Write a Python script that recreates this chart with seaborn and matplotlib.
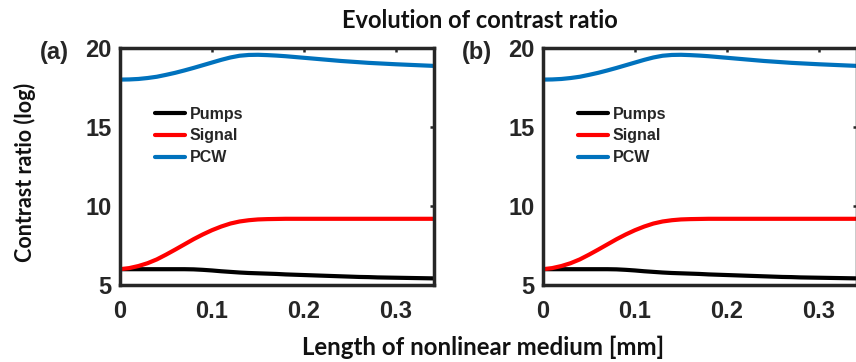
import numpy as np
import pandas as pd
import matplotlib
matplotlib.use("Agg")
import matplotlib.pyplot as plt
import seaborn as sns

# Propagation distance along the nonlinear medium (mm)
length_mm = [0.00, 0.01, 0.02, 0.03, 0.04, 0.05, 0.06, 0.07, 0.08, 0.09,
             0.10, 0.11, 0.12, 0.13, 0.14, 0.15, 0.16, 0.17, 0.18, 0.19,
             0.20, 0.21, 0.22, 0.23, 0.24, 0.25, 0.26, 0.27, 0.28, 0.29,
             0.30, 0.31, 0.32, 0.33, 0.34]

# Contrast ratio (log) of each wave
pumps = [6.00, 6.00, 6.00, 6.00, 6.00, 6.00, 6.00, 6.00, 5.99, 5.96,
         5.92, 5.87, 5.83, 5.79, 5.76, 5.74, 5.72, 5.70, 5.67, 5.65,
         5.63, 5.61, 5.59, 5.57, 5.55, 5.53, 5.51, 5.50, 5.48, 5.47,
         5.46, 5.45, 5.44, 5.43, 5.42]
signal = [6.00, 6.07, 6.20, 6.38, 6.62, 6.92, 7.24, 7.57, 7.90, 8.20,
          8.47, 8.70, 8.89, 9.02, 9.10, 9.15, 9.17, 9.18, 9.19, 9.19,
          9.19, 9.19, 9.19, 9.19, 9.19, 9.19, 9.19, 9.19, 9.19, 9.19,
          9.19, 9.19, 9.19, 9.19, 9.19]
pcw = [18.00, 18.01, 18.04, 18.10, 18.18, 18.30, 18.43, 18.58, 18.74, 18.91,
       19.08, 19.25, 19.40, 19.51, 19.56, 19.57, 19.55, 19.52, 19.48, 19.43,
       19.38, 19.33, 19.28, 19.23, 19.18, 19.14, 19.10, 19.06, 19.03, 19.00,
       18.97, 18.945, 18.92, 18.895, 18.87]

series_names = ["Pumps", "Signal", "PCW"]
series_colors = ["#000000", "#FF0000", "#0072BD"]
panel_labels = ["(a)", "(b)"]
x_ticks = [0, 0.1, 0.2, 0.3]
x_tick_labels = ["0", "0.1", "0.2", "0.3"]
y_ticks = [5, 10, 15, 20]

df = pd.DataFrame({
    "length": length_mm * 3,
    "ratio": pumps + signal + pcw,
    "wave": sum([[n] * len(length_mm) for n in series_names], []),
})

sns.set_theme(style="white")
plt.rcParams["font.family"] = ["Liberation Sans", "DejaVu Sans"]

W, H = 856, 362
fig = plt.figure(figsize=(W / 100, H / 100), dpi=100)

ax_lefts = [120, 543]
ax_width = 314
ax_top, ax_bottom = 48, 285
frame_color = "#262626"

for i, left in enumerate(ax_lefts):
    ax = fig.add_axes([left / W, (H - ax_bottom) / H, ax_width / W,
                       (ax_bottom - ax_top) / H])
    sns.lineplot(data=df, x="length", y="ratio", hue="wave",
                 hue_order=series_names, palette=series_colors,
                 linewidth=3.0, ax=ax, legend=True)
    ax.set_xlim(0, 0.3413)
    ax.set_ylim(5, 20)
    ax.set_xticks(x_ticks)
    ax.set_xticklabels(x_tick_labels)
    ax.set_yticks(y_ticks)
    ax.set_xlabel("")
    ax.set_ylabel("")
    ax.tick_params(direction="in", length=3, width=1.8, top=True, right=True,
                   labelsize=17, color=frame_color, labelcolor=frame_color)
    ax.tick_params(axis="x", pad=11)
    ax.tick_params(axis="y", pad=6)
    for lab in ax.get_xticklabels() + ax.get_yticklabels():
        lab.set_fontweight("bold")
    for sp in ax.spines.values():
        sp.set_linewidth(2.5)
        sp.set_color(frame_color)
    leg = ax.legend(loc="upper left", bbox_to_anchor=(0.111, 0.752),
                    frameon=False, borderpad=0, borderaxespad=0,
                    handlelength=1.9, handletextpad=0.3,
                    labelspacing=0.42, prop={"weight": "bold", "size": 11.5})
    for h in leg.get_lines():
        h.set_linewidth(3.0)
    fig.text((left - 66) / W, 1 - 52 / H, panel_labels[i], fontsize=17,
             fontweight="bold", ha="center", va="center", color=frame_color)

fig.text(480 / W, 1 - 28 / H, "Evolution of contrast ratio", fontsize=17,
         fontweight="bold", family=["Lato", "DejaVu Sans"],
         ha="center", va="baseline", color="#111111")
fig.text(483 / W, 1 - 355 / H, "Length of nonlinear medium [mm]", fontsize=17.3,
         fontweight="bold", family=["Lato", "DejaVu Sans"],
         ha="center", va="baseline", color="#111111")
fig.text(25 / W, 1 - 172.5 / H, "Contrast ratio (log)", fontsize=15.5,
         fontweight="bold", family=["Lato", "DejaVu Sans"], rotation=90,
         ha="center", va="center", color="#111111")

fig.savefig("out.png", dpi=100)
